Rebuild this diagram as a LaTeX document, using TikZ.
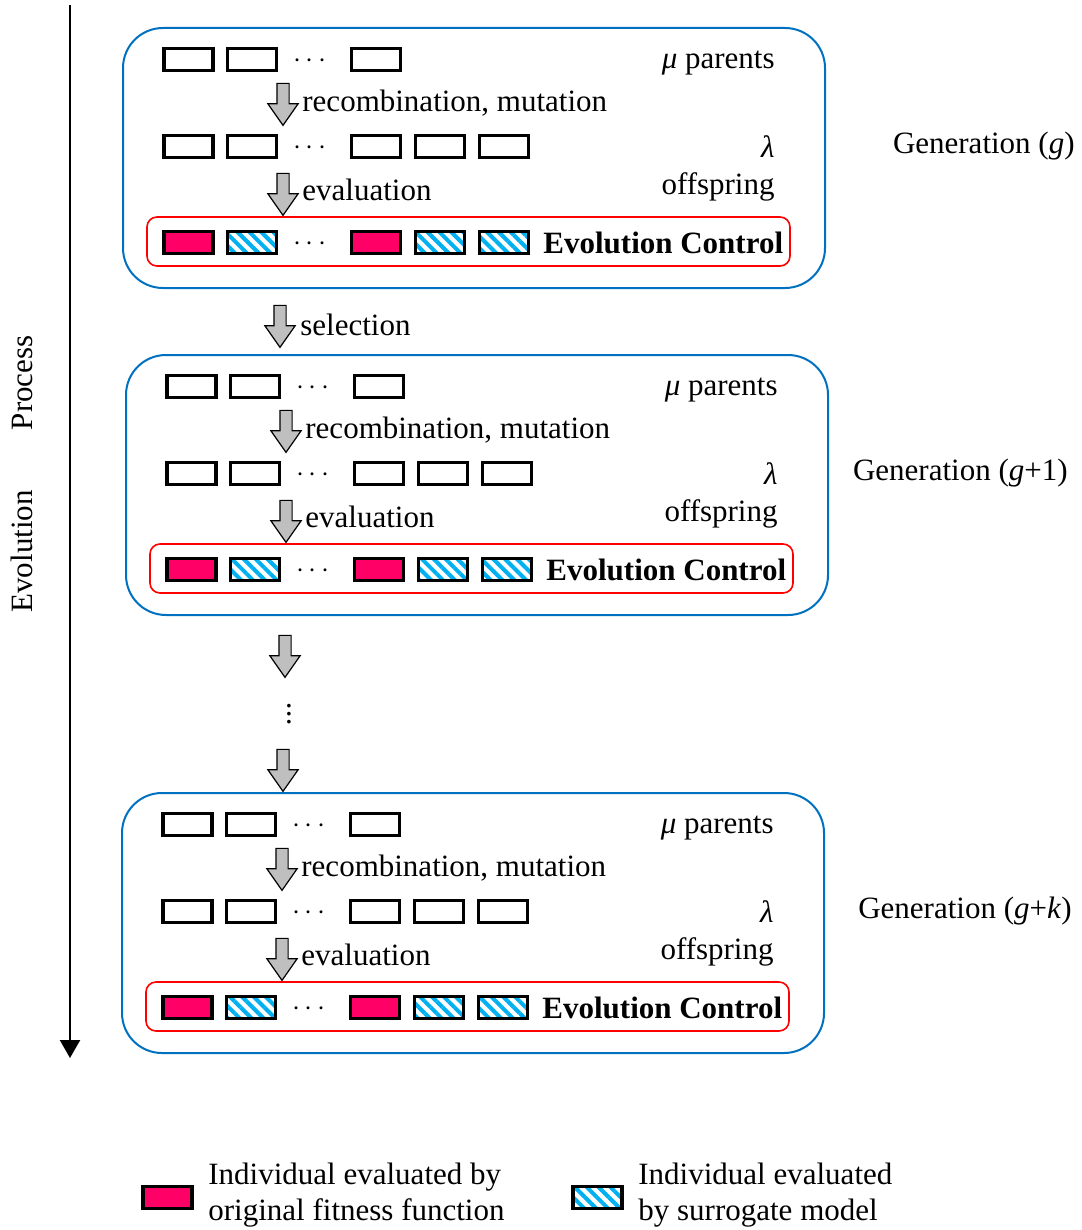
\documentclass[tikz,border=0pt]{standalone}
\usepackage{fontspec}
\setmainfont{Liberation Serif}
\usepackage{tikz}
\usetikzlibrary{positioning}
\usetikzlibrary{shapes,shapes.arrows,patterns.meta,arrows.meta}
\definecolor{hitpink}{RGB}{255,0,102}
\definecolor{surrblue}{RGB}{0,176,240}
\definecolor{genblue}{RGB}{0,112,192}
\tikzstyle{novertex} = [draw=none, fill=none, inner sep=0pt]
\tikzstyle{indiv} = [rectangle, draw, line width=1.6pt, minimum width=24.5pt, minimum height=11pt, inner sep=0pt]
\tikzstyle{real} = [indiv, fill=hitpink]
\tikzstyle{surr} = [indiv, pattern={Lines[angle=-45,distance=4.2pt,line width=2pt]}, pattern color=surrblue]
\tikzstyle{genbox} = [draw=genblue, line width=1pt, rounded corners=20pt]
\tikzstyle{ctrlbox} = [draw=red, line width=0.8pt, rounded corners=5pt]
\tikzstyle{flow} = [single arrow, draw, fill=black!25, line width=0.6pt, rotate=-90, minimum width=14.5pt, single arrow head extend=4.5pt, single arrow tip angle=70, minimum height=21pt, inner xsep=0pt, inner ysep=2.75pt]

\begin{document}
\begin{tikzpicture}[x=0.5pt, y=-0.5pt, font=\fontsize{15.5}{18}\selectfont]
	\useasboundingbox (0,0) rectangle (1081,1230);

	% time axis
	\coordinate (tstart) at (70,5);
	\coordinate (tend) at (70,1058);
	\draw [line width=1.2pt, -{Triangle[length=9pt,width=10pt]}] (tstart) -- (tend);
	\node [novertex, rotate=90] (axt) at (22,474) {Evolution\hspace{30pt}Process};

	% one block per generation
	\foreach \gx/\gy/\gl/\ge/\n in {123/28/{\textit{g}}/952/a, 126/355/{\textit{g}+1}/942/b, 122/793/{\textit{g}+\textit{k}}/950/c} {
	\begin{scope}[shift={(\gx,\gy)}]
		\draw [genbox] (0,0) rectangle (702,260);
		\draw [ctrlbox] (24,189) rectangle (667,238);

		% parents
		\node [indiv] (m1\n) at (65.5,31.5) {};
		\node [indiv] (m2\n) at (129,31.5) {};
		\node [novertex] (md\n) at (187,33) {$\cdots$};
		\node [indiv] (m3\n) at (253,31.5) {};
		\node [novertex, anchor=east] (mt\n) at (652,35) {\textit{μ} parents};

		\node [flow] (f1\n) at (160,72) {};
		\node [novertex, anchor=west] (ft1\n) at (179,75) {recombination, mutation};

		% offspring
		\node [indiv] (o1\n) at (65.5,118.5) {};
		\node [indiv] (o2\n) at (129,118.5) {};
		\node [novertex] (od\n) at (187,120) {$\cdots$};
		\node [indiv] (o3\n) at (253,118.5) {};
		\node [indiv] (o4\n) at (317,118.5) {};
		\node [indiv] (o5\n) at (381,118.5) {};
		\node [novertex, anchor=east] (ot\n) at (652,119) {\textit{λ}};
		\node [novertex, anchor=east] (ot2\n) at (652,159) {offspring};

		\node [flow] (f2\n) at (160,162) {};
		\node [novertex, anchor=west] (ft2\n) at (179,162) {evaluation};

		% evaluated offspring
		\node [real] (e1\n) at (65.5,214.5) {};
		\node [surr] (e2\n) at (129,214.5) {};
		\node [novertex] (ed\n) at (187,216) {$\cdots$};
		\node [real] (e3\n) at (253,214.5) {};
		\node [surr] (e4\n) at (317,214.5) {};
		\node [surr] (e5\n) at (381,214.5) {};
		\node [novertex, anchor=west] (ec\n) at (420,215) {\textbf{Evolution Control}};

		\node [novertex, anchor=east] (g\n) at (\ge,118) {Generation (\gl)};
	\end{scope}
	}

	% between generations
	\node [flow] (sel) at (280,322) {};
	\node [novertex, anchor=west] (selt) at (300,325) {selection};
	\node [flow] (skip1) at (285,652) {};
	\node [novertex] (vd) at (289,708) {$\vdots$};
	\node [flow] (skip2) at (283,766) {};

	% legend
	\node [real] (lg1) at (167.5,1197.5) {};
	\node [novertex, anchor=west, align=left] (lg1t) at (208,1195) {Individual evaluated by\\original fitness function};
	\node [surr] (lg2) at (597.5,1197.5) {};
	\node [novertex, anchor=west, align=left] (lg2t) at (638,1195) {Individual evaluated\\by surrogate model};
\end{tikzpicture}
\end{document}
